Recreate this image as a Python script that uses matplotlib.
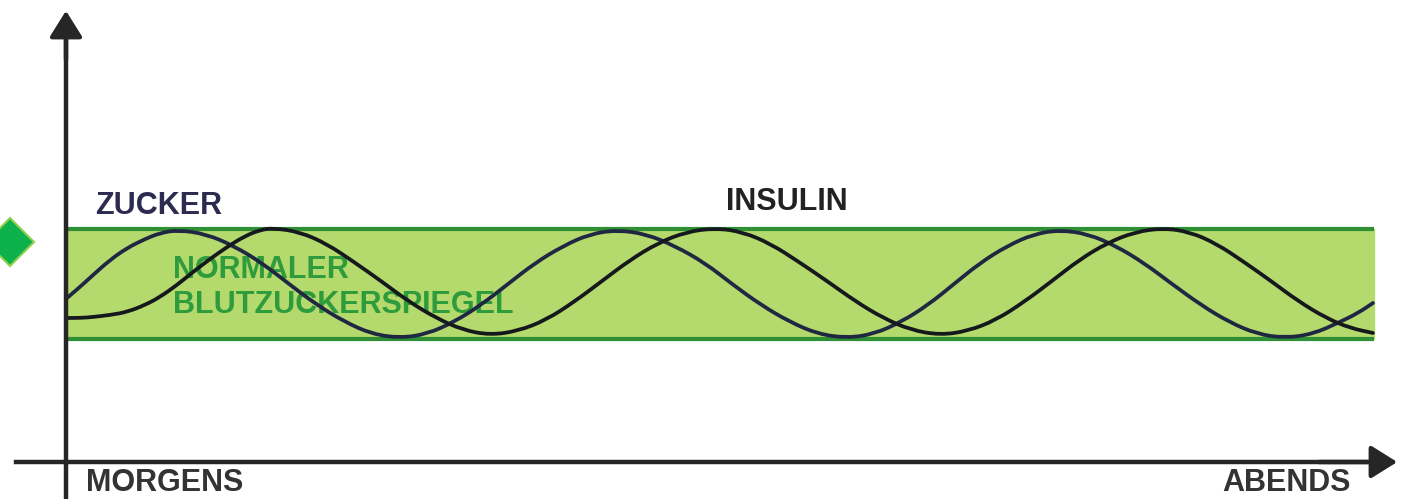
import matplotlib
matplotlib.use('Agg')
import matplotlib.pyplot as plt
from matplotlib.path import Path
from matplotlib.patches import PathPatch

# time runs from morning (0) to evening (~131), level in arbitrary units
band_low = 61.5
band_high = 116.5
band_start = 0.2
band_end = 130.8

zucker_x = [0.1, 1.4, 2.7, 4.4, 6.1, 7.9, 9.4, 11.2, 14.0, 16.8, 19.6, 22.3, 25.1, 27.9,
            30.6, 33.4, 36.1, 38.8, 41.5, 44.2, 46.9, 49.7, 52.4, 55.1, 58.0, 60.9, 63.9,
            66.6, 69.5, 72.4, 75.2, 78.1, 80.8, 83.5, 86.2, 88.8, 91.4, 94.1, 96.8, 99.4,
            102.2, 105.0, 107.8, 110.6, 113.5, 116.3, 119.1, 121.9, 124.7, 127.4, 129.2, 130.7]
zucker_y = [82.0, 87.5, 93.5, 101.0, 107.0, 111.5, 114.5, 116.0, 114.0, 108.0, 99.5, 89.0,
            78.5, 70.0, 64.0, 62.0, 64.0, 70.0, 78.5, 89.0, 99.5, 108.0, 114.0, 116.0, 114.0,
            108.0, 99.5, 89.0, 78.5, 70.0, 64.0, 62.0, 64.0, 70.0, 78.5, 89.0, 99.5, 108.0,
            114.0, 116.0, 114.0, 108.0, 99.5, 89.0, 78.5, 70.0, 64.0, 62.0, 64.0, 70.0, 74.5, 79.5]

insulin_x = [0.1, 1.4, 2.7, 4.4, 6.1, 7.9, 9.4, 11.1, 12.7, 14.4, 16.1, 17.9, 19.4, 20.7,
             23.4, 26.1, 28.8, 31.5, 34.2, 37.0, 39.7, 42.4, 45.2, 48.0, 50.8, 53.6, 56.4,
             59.2, 62.0, 64.9, 67.7, 70.5, 73.3, 76.1, 78.9, 81.7, 84.5, 87.4, 90.2, 93.0,
             95.8, 98.6, 101.3, 104.1, 106.9, 109.7, 112.4, 115.1, 117.8, 120.5, 123.2, 126.0,
             128.4, 130.7]
insulin_y = [72.0, 72.0, 72.5, 73.5, 75.0, 78.5, 82.5, 88.5, 95.0, 101.5, 107.5, 113.0, 116.0,
             117.0, 115.0, 109.0, 100.0, 90.5, 80.5, 72.0, 66.0, 63.5, 65.5, 71.0, 80.0, 90.5,
             101.0, 109.5, 115.0, 117.0, 115.0, 109.0, 100.0, 90.5, 80.5, 72.0, 66.0, 63.5,
             65.5, 71.0, 80.0, 90.5, 101.0, 109.5, 115.0, 117.0, 115.0, 109.0, 100.0, 90.5,
             80.5, 72.0, 67.0, 64.5]

FONT = 'Liberation Sans'


def smooth_curve(xs, ys):
    """Quadratic bezier path through the midpoints, data points act as controls."""
    verts = [(xs[0], ys[0])]
    codes = [Path.MOVETO]
    for i in range(1, len(xs) - 1):
        mid = ((xs[i] + xs[i + 1]) / 2, (ys[i] + ys[i + 1]) / 2)
        verts += [(xs[i], ys[i]), mid]
        codes += [Path.CURVE3, Path.CURVE3]
    verts.append((xs[-1], ys[-1]))
    codes.append(Path.LINETO)
    return Path(verts, codes)


fig = plt.figure(figsize=(14.09, 4.99), dpi=100)
ax = fig.add_axes([0, 0, 1, 1])
ax.set_xlim(-6.6, 134.3)
ax.set_ylim(-18.5, 231)
ax.axis('off')

# normal range band
ax.fill_between([band_start, band_end], band_low, band_high, color='#b4d96c', zorder=1)
ax.hlines([band_low, band_high], band_start, band_end, color='#2f8f35', lw=3, zorder=2)

# curves (drawn over the band label)
ax.add_patch(PathPatch(smooth_curve(zucker_x, zucker_y), fill=False,
                       edgecolor='#1f2742', lw=2.7, capstyle='round', zorder=4))
ax.add_patch(PathPatch(smooth_curve(insulin_x, insulin_y), fill=False,
                       edgecolor='#15181c', lw=2.7, capstyle='round', zorder=4))

# axes with arrows
axis_col = '#262626'
ax.plot([0, 0], [-18.5, 215], color=axis_col, lw=3.2, zorder=5)
ax.annotate('', xy=(0, 227), xytext=(0, 200),
            arrowprops=dict(arrowstyle='-|>,head_length=0.8,head_width=0.5',
                            color=axis_col, lw=3.2, mutation_scale=20), zorder=5)
ax.plot([-5, 130], [0, 0], color=axis_col, lw=3.2, zorder=5)
ax.annotate('', xy=(133.4, 0), xytext=(125, 0),
            arrowprops=dict(arrowstyle='-|>,head_length=0.8,head_width=0.5',
                            color=axis_col, lw=3.2, mutation_scale=20), zorder=5)

# green diamond at the left edge
ax.plot([-5.6], [110], marker='D', markersize=24, color='#0db14b',
        markeredgecolor='#8fd14f', markeredgewidth=1.5, clip_on=False, zorder=6)

# labels
txt = dict(fontsize=22, fontweight='bold', family=FONT, va='baseline', ha='left')
ax.text(2.9, 124, 'ZUCKER', color='#2d2b4f', zorder=7, **txt)
ax.text(66.0, 126, 'INSULIN', color='#222222', zorder=7, **txt)
ax.text(10.7, 92, 'NORMALER', color='#2e9b3c', zorder=3, **txt)
ax.text(10.7, 74.5, 'BLUTZUCKERSPIEGEL', color='#2e9b3c', zorder=3, **txt)
ax.text(2.0, -14.5, 'MORGENS', color='#333333', zorder=7, **txt)
ax.text(115.6, -14.5, 'ABENDS', color='#333333', zorder=7, **txt)

fig.savefig('out.png', dpi=100, facecolor='white')
plt.close(fig)
